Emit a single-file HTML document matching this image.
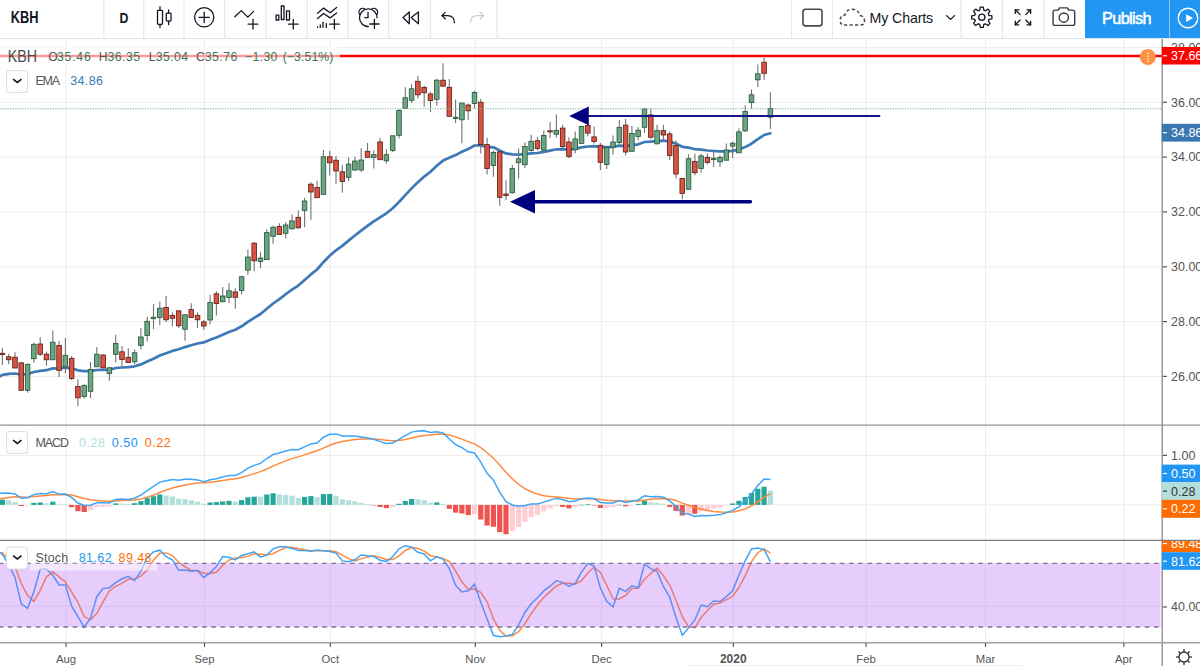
<!DOCTYPE html>
<html><head><meta charset="utf-8"><title>KBH chart</title>
<style>html,body{margin:0;padding:0;width:1200px;height:666px;overflow:hidden;background:#fff;font-family:"Liberation Sans",sans-serif}</style>
</head><body>
<svg width="1200" height="666" viewBox="0 0 1200 666" style="position:absolute;left:0;top:0"><rect x="0" y="0" width="1200" height="666" fill="#fff"/><line x1="66" y1="39" x2="66" y2="642.5" stroke="#ececec" stroke-width="1"/><line x1="204.5" y1="39" x2="204.5" y2="642.5" stroke="#ececec" stroke-width="1"/><line x1="330.3" y1="39" x2="330.3" y2="642.5" stroke="#ececec" stroke-width="1"/><line x1="475.3" y1="39" x2="475.3" y2="642.5" stroke="#ececec" stroke-width="1"/><line x1="601.6" y1="39" x2="601.6" y2="642.5" stroke="#ececec" stroke-width="1"/><line x1="733.3" y1="39" x2="733.3" y2="642.5" stroke="#ececec" stroke-width="1"/><line x1="866" y1="39" x2="866" y2="642.5" stroke="#ececec" stroke-width="1"/><line x1="985.5" y1="39" x2="985.5" y2="642.5" stroke="#ececec" stroke-width="1"/><line x1="1123.8" y1="39" x2="1123.8" y2="642.5" stroke="#ececec" stroke-width="1"/><line x1="0" y1="47.6" x2="1162" y2="47.6" stroke="#ececec" stroke-width="1"/><line x1="0" y1="102.4" x2="1162" y2="102.4" stroke="#ececec" stroke-width="1"/><line x1="0" y1="157.2" x2="1162" y2="157.2" stroke="#ececec" stroke-width="1"/><line x1="0" y1="212.0" x2="1162" y2="212.0" stroke="#ececec" stroke-width="1"/><line x1="0" y1="266.9" x2="1162" y2="266.9" stroke="#ececec" stroke-width="1"/><line x1="0" y1="321.7" x2="1162" y2="321.7" stroke="#ececec" stroke-width="1"/><line x1="0" y1="376.5" x2="1162" y2="376.5" stroke="#ececec" stroke-width="1"/><line x1="0" y1="455.4" x2="1162" y2="455.4" stroke="#ececec" stroke-width="1"/><line x1="0" y1="504.9" x2="1162" y2="504.9" stroke="#ececec" stroke-width="1"/><line x1="0" y1="606.3" x2="1162" y2="606.3" stroke="#ececec" stroke-width="1"/><polyline points="0.0,376.3 2.4,374.9 8.7,373.9 15.0,373.5 21.3,374.6 27.6,374.0 33.9,372.0 40.2,370.9 46.5,370.2 52.8,368.4 59.1,368.5 65.4,367.6 71.6,368.4 77.9,370.3 84.2,371.2 90.5,371.1 96.8,370.0 103.1,369.9 109.4,369.7 115.7,368.0 122.0,367.5 128.3,367.2 134.6,366.3 140.9,364.4 147.2,361.6 153.5,358.7 159.8,355.5 166.1,353.2 172.4,350.9 178.7,349.3 185.0,347.1 191.2,345.2 197.5,343.5 203.8,342.4 210.1,339.8 216.4,337.5 222.7,334.8 229.0,332.0 235.3,329.7 241.6,326.3 247.9,321.8 254.2,317.9 260.5,314.0 266.8,308.8 273.1,303.5 279.4,299.1 285.7,294.3 292.0,289.6 298.3,285.6 304.6,280.1 310.9,274.4 317.1,269.5 323.4,262.2 329.7,255.8 336.0,250.3 342.3,245.9 348.6,240.6 354.9,235.5 361.2,230.6 367.5,225.9 373.8,221.3 380.1,217.3 386.4,213.3 392.7,208.3 399.0,202.0 405.3,195.2 411.6,188.4 417.9,182.3 424.2,176.6 430.5,171.7 436.8,165.8 443.0,160.6 449.3,157.8 455.6,155.1 461.9,151.8 468.2,149.1 474.5,145.5 480.8,145.4 487.1,146.9 493.4,147.3 499.7,150.5 506.0,153.4 512.3,154.4 518.6,154.7 524.9,154.1 531.2,153.3 537.5,153.0 543.8,151.9 550.1,150.6 556.4,149.3 562.7,149.1 568.9,149.6 575.2,148.9 581.5,147.4 587.8,146.5 594.1,146.2 600.4,147.2 606.7,147.2 613.0,146.9 619.3,145.6 625.6,146.1 631.9,145.2 638.2,144.3 644.5,142.0 650.8,141.7 657.1,141.0 663.4,140.6 669.7,141.5 676.0,143.6 682.3,146.8 688.6,147.6 694.9,149.2 701.1,149.7 707.4,150.5 713.7,151.0 720.0,151.4 726.3,151.3 732.6,150.8 738.9,149.6 745.2,147.1 751.5,143.7 757.8,139.2 764.1,135.0 770.4,133.3" fill="none" stroke="#3c79b6" stroke-width="2.7" stroke-linejoin="round" stroke-linecap="round"/><g><line x1="2.4" y1="347.8" x2="2.4" y2="365.0" stroke="#737375" stroke-width="1.1"/><line x1="8.7" y1="353.8" x2="8.7" y2="364.3" stroke="#737375" stroke-width="1.1"/><line x1="15.0" y1="352.3" x2="15.0" y2="368.0" stroke="#737375" stroke-width="1.1"/><line x1="21.3" y1="362.8" x2="21.3" y2="391.0" stroke="#737375" stroke-width="1.1"/><line x1="27.6" y1="363.5" x2="27.6" y2="392.8" stroke="#737375" stroke-width="1.1"/><line x1="33.9" y1="342.5" x2="33.9" y2="362.8" stroke="#737375" stroke-width="1.1"/><line x1="40.2" y1="337.3" x2="40.2" y2="356.0" stroke="#737375" stroke-width="1.1"/><line x1="46.5" y1="351.5" x2="46.5" y2="365.8" stroke="#737375" stroke-width="1.1"/><line x1="52.8" y1="330.5" x2="52.8" y2="359.8" stroke="#737375" stroke-width="1.1"/><line x1="59.1" y1="341.0" x2="59.1" y2="377.0" stroke="#737375" stroke-width="1.1"/><line x1="65.4" y1="338.0" x2="65.4" y2="373.3" stroke="#737375" stroke-width="1.1"/><line x1="71.6" y1="356.0" x2="71.6" y2="380.0" stroke="#737375" stroke-width="1.1"/><line x1="77.9" y1="379.3" x2="77.9" y2="406.3" stroke="#737375" stroke-width="1.1"/><line x1="84.2" y1="384.6" x2="84.2" y2="398.8" stroke="#737375" stroke-width="1.1"/><line x1="90.5" y1="362.0" x2="90.5" y2="398.0" stroke="#737375" stroke-width="1.1"/><line x1="96.8" y1="347.0" x2="96.8" y2="366.8" stroke="#737375" stroke-width="1.1"/><line x1="103.1" y1="354.3" x2="103.1" y2="368.6" stroke="#737375" stroke-width="1.1"/><line x1="109.4" y1="367.0" x2="109.4" y2="380.8" stroke="#737375" stroke-width="1.1"/><line x1="115.7" y1="334.8" x2="115.7" y2="362.6" stroke="#737375" stroke-width="1.1"/><line x1="122.0" y1="346.0" x2="122.0" y2="367.0" stroke="#737375" stroke-width="1.1"/><line x1="128.3" y1="348.3" x2="128.3" y2="363.3" stroke="#737375" stroke-width="1.1"/><line x1="134.6" y1="349.4" x2="134.6" y2="364.0" stroke="#737375" stroke-width="1.1"/><line x1="140.9" y1="328.3" x2="140.9" y2="349.4" stroke="#737375" stroke-width="1.1"/><line x1="147.2" y1="316.8" x2="147.2" y2="341.6" stroke="#737375" stroke-width="1.1"/><line x1="153.5" y1="304.0" x2="153.5" y2="329.2" stroke="#737375" stroke-width="1.1"/><line x1="159.8" y1="301.8" x2="159.8" y2="325.0" stroke="#737375" stroke-width="1.1"/><line x1="166.1" y1="295.8" x2="166.1" y2="322.0" stroke="#737375" stroke-width="1.1"/><line x1="172.4" y1="312.3" x2="172.4" y2="326.2" stroke="#737375" stroke-width="1.1"/><line x1="178.7" y1="310.8" x2="178.7" y2="328.0" stroke="#737375" stroke-width="1.1"/><line x1="185.0" y1="314.8" x2="185.0" y2="340.8" stroke="#737375" stroke-width="1.1"/><line x1="191.2" y1="303.3" x2="191.2" y2="318.0" stroke="#737375" stroke-width="1.1"/><line x1="197.5" y1="312.6" x2="197.5" y2="328.3" stroke="#737375" stroke-width="1.1"/><line x1="203.8" y1="320.0" x2="203.8" y2="330.0" stroke="#737375" stroke-width="1.1"/><line x1="210.1" y1="294.9" x2="210.1" y2="324.6" stroke="#737375" stroke-width="1.1"/><line x1="216.4" y1="291.6" x2="216.4" y2="315.6" stroke="#737375" stroke-width="1.1"/><line x1="222.7" y1="287.0" x2="222.7" y2="302.0" stroke="#737375" stroke-width="1.1"/><line x1="229.0" y1="283.3" x2="229.0" y2="302.8" stroke="#737375" stroke-width="1.1"/><line x1="235.3" y1="288.3" x2="235.3" y2="308.8" stroke="#737375" stroke-width="1.1"/><line x1="241.6" y1="275.8" x2="241.6" y2="294.6" stroke="#737375" stroke-width="1.1"/><line x1="247.9" y1="249.5" x2="247.9" y2="275.0" stroke="#737375" stroke-width="1.1"/><line x1="254.2" y1="242.0" x2="254.2" y2="271.3" stroke="#737375" stroke-width="1.1"/><line x1="260.5" y1="251.8" x2="260.5" y2="268.3" stroke="#737375" stroke-width="1.1"/><line x1="266.8" y1="229.6" x2="266.8" y2="259.6" stroke="#737375" stroke-width="1.1"/><line x1="273.1" y1="225.8" x2="273.1" y2="243.8" stroke="#737375" stroke-width="1.1"/><line x1="279.4" y1="223.3" x2="279.4" y2="234.8" stroke="#737375" stroke-width="1.1"/><line x1="285.7" y1="222.0" x2="285.7" y2="238.6" stroke="#737375" stroke-width="1.1"/><line x1="292.0" y1="214.6" x2="292.0" y2="229.6" stroke="#737375" stroke-width="1.1"/><line x1="298.3" y1="210.4" x2="298.3" y2="228.8" stroke="#737375" stroke-width="1.1"/><line x1="304.6" y1="197.7" x2="304.6" y2="227.3" stroke="#737375" stroke-width="1.1"/><line x1="310.9" y1="182.3" x2="310.9" y2="219.8" stroke="#737375" stroke-width="1.1"/><line x1="317.1" y1="180.8" x2="317.1" y2="197.7" stroke="#737375" stroke-width="1.1"/><line x1="323.4" y1="150.0" x2="323.4" y2="195.0" stroke="#737375" stroke-width="1.1"/><line x1="329.7" y1="150.8" x2="329.7" y2="175.5" stroke="#737375" stroke-width="1.1"/><line x1="336.0" y1="156.0" x2="336.0" y2="183.8" stroke="#737375" stroke-width="1.1"/><line x1="342.3" y1="165.0" x2="342.3" y2="192.8" stroke="#737375" stroke-width="1.1"/><line x1="348.6" y1="157.3" x2="348.6" y2="181.0" stroke="#737375" stroke-width="1.1"/><line x1="354.9" y1="156.8" x2="354.9" y2="171.0" stroke="#737375" stroke-width="1.1"/><line x1="361.2" y1="148.2" x2="361.2" y2="172.0" stroke="#737375" stroke-width="1.1"/><line x1="367.5" y1="143.0" x2="367.5" y2="157.8" stroke="#737375" stroke-width="1.1"/><line x1="373.8" y1="150.5" x2="373.8" y2="168.4" stroke="#737375" stroke-width="1.1"/><line x1="380.1" y1="137.9" x2="380.1" y2="160.0" stroke="#737375" stroke-width="1.1"/><line x1="386.4" y1="149.2" x2="386.4" y2="163.6" stroke="#737375" stroke-width="1.1"/><line x1="392.7" y1="135.8" x2="392.7" y2="152.0" stroke="#737375" stroke-width="1.1"/><line x1="399.0" y1="109.0" x2="399.0" y2="138.5" stroke="#737375" stroke-width="1.1"/><line x1="405.3" y1="87.3" x2="405.3" y2="108.3" stroke="#737375" stroke-width="1.1"/><line x1="411.6" y1="84.3" x2="411.6" y2="102.7" stroke="#737375" stroke-width="1.1"/><line x1="417.9" y1="76.0" x2="417.9" y2="98.5" stroke="#737375" stroke-width="1.1"/><line x1="424.2" y1="85.8" x2="424.2" y2="106.8" stroke="#737375" stroke-width="1.1"/><line x1="430.5" y1="91.8" x2="430.5" y2="112.0" stroke="#737375" stroke-width="1.1"/><line x1="436.8" y1="78.7" x2="436.8" y2="105.7" stroke="#737375" stroke-width="1.1"/><line x1="443.0" y1="63.3" x2="443.0" y2="86.2" stroke="#737375" stroke-width="1.1"/><line x1="449.3" y1="79.0" x2="449.3" y2="116.3" stroke="#737375" stroke-width="1.1"/><line x1="455.6" y1="99.6" x2="455.6" y2="123.0" stroke="#737375" stroke-width="1.1"/><line x1="461.9" y1="103.0" x2="461.9" y2="143.2" stroke="#737375" stroke-width="1.1"/><line x1="468.2" y1="103.5" x2="468.2" y2="119.8" stroke="#737375" stroke-width="1.1"/><line x1="474.5" y1="90.5" x2="474.5" y2="108.4" stroke="#737375" stroke-width="1.1"/><line x1="480.8" y1="98.7" x2="480.8" y2="153.4" stroke="#737375" stroke-width="1.1"/><line x1="487.1" y1="137.7" x2="487.1" y2="174.5" stroke="#737375" stroke-width="1.1"/><line x1="493.4" y1="150.4" x2="493.4" y2="176.8" stroke="#737375" stroke-width="1.1"/><line x1="499.7" y1="151.8" x2="499.7" y2="205.7" stroke="#737375" stroke-width="1.1"/><line x1="506.0" y1="180.3" x2="506.0" y2="200.2" stroke="#737375" stroke-width="1.1"/><line x1="512.3" y1="165.0" x2="512.3" y2="193.4" stroke="#737375" stroke-width="1.1"/><line x1="518.6" y1="148.5" x2="518.6" y2="178.4" stroke="#737375" stroke-width="1.1"/><line x1="524.9" y1="142.6" x2="524.9" y2="168.0" stroke="#737375" stroke-width="1.1"/><line x1="531.2" y1="134.8" x2="531.2" y2="151.4" stroke="#737375" stroke-width="1.1"/><line x1="537.5" y1="136.8" x2="537.5" y2="150.4" stroke="#737375" stroke-width="1.1"/><line x1="543.8" y1="130.4" x2="543.8" y2="152.8" stroke="#737375" stroke-width="1.1"/><line x1="550.1" y1="122.0" x2="550.1" y2="138.0" stroke="#737375" stroke-width="1.1"/><line x1="556.4" y1="114.6" x2="556.4" y2="137.6" stroke="#737375" stroke-width="1.1"/><line x1="562.7" y1="124.7" x2="562.7" y2="148.0" stroke="#737375" stroke-width="1.1"/><line x1="568.9" y1="137.2" x2="568.9" y2="158.2" stroke="#737375" stroke-width="1.1"/><line x1="575.2" y1="131.5" x2="575.2" y2="153.4" stroke="#737375" stroke-width="1.1"/><line x1="581.5" y1="126.4" x2="581.5" y2="143.4" stroke="#737375" stroke-width="1.1"/><line x1="587.8" y1="122.7" x2="587.8" y2="136.6" stroke="#737375" stroke-width="1.1"/><line x1="594.1" y1="126.4" x2="594.1" y2="143.6" stroke="#737375" stroke-width="1.1"/><line x1="600.4" y1="143.0" x2="600.4" y2="170.0" stroke="#737375" stroke-width="1.1"/><line x1="606.7" y1="147.0" x2="606.7" y2="169.0" stroke="#737375" stroke-width="1.1"/><line x1="613.0" y1="135.5" x2="613.0" y2="154.5" stroke="#737375" stroke-width="1.1"/><line x1="619.3" y1="120.0" x2="619.3" y2="144.6" stroke="#737375" stroke-width="1.1"/><line x1="625.6" y1="119.0" x2="625.6" y2="155.4" stroke="#737375" stroke-width="1.1"/><line x1="631.9" y1="126.0" x2="631.9" y2="152.0" stroke="#737375" stroke-width="1.1"/><line x1="638.2" y1="127.3" x2="638.2" y2="140.5" stroke="#737375" stroke-width="1.1"/><line x1="644.5" y1="108.3" x2="644.5" y2="133.0" stroke="#737375" stroke-width="1.1"/><line x1="650.8" y1="108.3" x2="650.8" y2="139.3" stroke="#737375" stroke-width="1.1"/><line x1="657.1" y1="124.8" x2="657.1" y2="144.6" stroke="#737375" stroke-width="1.1"/><line x1="663.4" y1="124.8" x2="663.4" y2="140.5" stroke="#737375" stroke-width="1.1"/><line x1="669.7" y1="131.4" x2="669.7" y2="160.3" stroke="#737375" stroke-width="1.1"/><line x1="676.0" y1="140.5" x2="676.0" y2="178.5" stroke="#737375" stroke-width="1.1"/><line x1="682.3" y1="177.7" x2="682.3" y2="199.2" stroke="#737375" stroke-width="1.1"/><line x1="688.6" y1="154.2" x2="688.6" y2="190.0" stroke="#737375" stroke-width="1.1"/><line x1="694.9" y1="153.7" x2="694.9" y2="175.2" stroke="#737375" stroke-width="1.1"/><line x1="701.1" y1="153.7" x2="701.1" y2="172.7" stroke="#737375" stroke-width="1.1"/><line x1="707.4" y1="153.4" x2="707.4" y2="164.5" stroke="#737375" stroke-width="1.1"/><line x1="713.7" y1="150.4" x2="713.7" y2="167.0" stroke="#737375" stroke-width="1.1"/><line x1="720.0" y1="155.3" x2="720.0" y2="167.0" stroke="#737375" stroke-width="1.1"/><line x1="726.3" y1="143.6" x2="726.3" y2="160.2" stroke="#737375" stroke-width="1.1"/><line x1="732.6" y1="141.6" x2="732.6" y2="158.2" stroke="#737375" stroke-width="1.1"/><line x1="738.9" y1="128.6" x2="738.9" y2="152.8" stroke="#737375" stroke-width="1.1"/><line x1="745.2" y1="105.5" x2="745.2" y2="131.9" stroke="#737375" stroke-width="1.1"/><line x1="751.5" y1="89.5" x2="751.5" y2="108.5" stroke="#737375" stroke-width="1.1"/><line x1="757.8" y1="64.5" x2="757.8" y2="87.0" stroke="#737375" stroke-width="1.1"/><line x1="764.1" y1="57.7" x2="764.1" y2="79.8" stroke="#737375" stroke-width="1.1"/><line x1="770.4" y1="92.2" x2="770.4" y2="129.0" stroke="#737375" stroke-width="1.1"/><rect x="0.10" y="353.3" width="4.6" height="1.3" fill="#d75442" stroke="#5b1a13" stroke-width="0.8"/><rect x="6.40" y="356.8" width="4.6" height="3.0" fill="#d75442" stroke="#5b1a13" stroke-width="0.8"/><rect x="12.69" y="357.2" width="4.6" height="10.8" fill="#d75442" stroke="#5b1a13" stroke-width="0.8"/><rect x="18.98" y="362.8" width="4.6" height="27.5" fill="#d75442" stroke="#5b1a13" stroke-width="0.8"/><rect x="25.28" y="364.3" width="4.6" height="26.0" fill="#6ba583" stroke="#225437" stroke-width="0.8"/><rect x="31.57" y="344.3" width="4.6" height="14.4" fill="#6ba583" stroke="#225437" stroke-width="0.8"/><rect x="37.87" y="344.0" width="4.6" height="10.2" fill="#d75442" stroke="#5b1a13" stroke-width="0.8"/><rect x="44.16" y="354.2" width="4.6" height="5.6" fill="#d75442" stroke="#5b1a13" stroke-width="0.8"/><rect x="50.46" y="342.2" width="4.6" height="17.6" fill="#6ba583" stroke="#225437" stroke-width="0.8"/><rect x="56.76" y="345.5" width="4.6" height="24.8" fill="#d75442" stroke="#5b1a13" stroke-width="0.8"/><rect x="63.05" y="355.3" width="4.6" height="11.5" fill="#6ba583" stroke="#225437" stroke-width="0.8"/><rect x="69.35" y="358.3" width="4.6" height="20.3" fill="#d75442" stroke="#5b1a13" stroke-width="0.8"/><rect x="75.64" y="386.5" width="4.6" height="11.3" fill="#d75442" stroke="#5b1a13" stroke-width="0.8"/><rect x="81.94" y="385.3" width="4.6" height="11.3" fill="#6ba583" stroke="#225437" stroke-width="0.8"/><rect x="88.23" y="369.5" width="4.6" height="21.8" fill="#6ba583" stroke="#225437" stroke-width="0.8"/><rect x="94.53" y="354.2" width="4.6" height="12.6" fill="#6ba583" stroke="#225437" stroke-width="0.8"/><rect x="100.82" y="355.0" width="4.6" height="12.8" fill="#d75442" stroke="#5b1a13" stroke-width="0.8"/><rect x="107.12" y="367.8" width="4.6" height="5.6" fill="#6ba583" stroke="#225437" stroke-width="0.8"/><rect x="113.41" y="343.4" width="4.6" height="10.9" fill="#6ba583" stroke="#225437" stroke-width="0.8"/><rect x="119.71" y="351.8" width="4.6" height="7.8" fill="#d75442" stroke="#5b1a13" stroke-width="0.8"/><rect x="126.00" y="357.3" width="4.6" height="5.3" fill="#d75442" stroke="#5b1a13" stroke-width="0.8"/><rect x="132.29" y="352.8" width="4.6" height="9.0" fill="#6ba583" stroke="#225437" stroke-width="0.8"/><rect x="138.59" y="337.0" width="4.6" height="8.3" fill="#6ba583" stroke="#225437" stroke-width="0.8"/><rect x="144.88" y="321.3" width="4.6" height="14.3" fill="#6ba583" stroke="#225437" stroke-width="0.8"/><rect x="151.18" y="317.2" width="4.6" height="1.5" fill="#6ba583" stroke="#225437" stroke-width="0.8"/><rect x="157.47" y="308.2" width="4.6" height="9.3" fill="#6ba583" stroke="#225437" stroke-width="0.8"/><rect x="163.77" y="307.5" width="4.6" height="12.3" fill="#d75442" stroke="#5b1a13" stroke-width="0.8"/><rect x="170.06" y="315.3" width="4.6" height="3.0" fill="#d75442" stroke="#5b1a13" stroke-width="0.8"/><rect x="176.36" y="310.8" width="4.6" height="15.0" fill="#d75442" stroke="#5b1a13" stroke-width="0.8"/><rect x="182.66" y="314.8" width="4.6" height="14.4" fill="#6ba583" stroke="#225437" stroke-width="0.8"/><rect x="188.95" y="309.6" width="4.6" height="7.8" fill="#d75442" stroke="#5b1a13" stroke-width="0.8"/><rect x="195.25" y="315.3" width="4.6" height="4.5" fill="#d75442" stroke="#5b1a13" stroke-width="0.8"/><rect x="201.54" y="321.9" width="4.6" height="4.1" fill="#d75442" stroke="#5b1a13" stroke-width="0.8"/><rect x="207.83" y="302.4" width="4.6" height="17.6" fill="#6ba583" stroke="#225437" stroke-width="0.8"/><rect x="214.13" y="293.8" width="4.6" height="9.8" fill="#d75442" stroke="#5b1a13" stroke-width="0.8"/><rect x="220.42" y="296.0" width="4.6" height="5.8" fill="#6ba583" stroke="#225437" stroke-width="0.8"/><rect x="226.72" y="290.8" width="4.6" height="6.8" fill="#6ba583" stroke="#225437" stroke-width="0.8"/><rect x="233.01" y="291.9" width="4.6" height="5.4" fill="#d75442" stroke="#5b1a13" stroke-width="0.8"/><rect x="239.31" y="276.8" width="4.6" height="13.6" fill="#6ba583" stroke="#225437" stroke-width="0.8"/><rect x="245.60" y="257.0" width="4.6" height="13.2" fill="#6ba583" stroke="#225437" stroke-width="0.8"/><rect x="251.90" y="243.2" width="4.6" height="17.6" fill="#d75442" stroke="#5b1a13" stroke-width="0.8"/><rect x="258.19" y="258.0" width="4.6" height="3.5" fill="#6ba583" stroke="#225437" stroke-width="0.8"/><rect x="264.49" y="232.6" width="4.6" height="27.0" fill="#6ba583" stroke="#225437" stroke-width="0.8"/><rect x="270.78" y="227.3" width="4.6" height="9.0" fill="#6ba583" stroke="#225437" stroke-width="0.8"/><rect x="277.08" y="226.6" width="4.6" height="7.8" fill="#d75442" stroke="#5b1a13" stroke-width="0.8"/><rect x="283.37" y="225.0" width="4.6" height="8.3" fill="#6ba583" stroke="#225437" stroke-width="0.8"/><rect x="289.67" y="220.9" width="4.6" height="7.9" fill="#6ba583" stroke="#225437" stroke-width="0.8"/><rect x="295.96" y="217.3" width="4.6" height="10.5" fill="#d75442" stroke="#5b1a13" stroke-width="0.8"/><rect x="302.26" y="201.0" width="4.6" height="9.4" fill="#6ba583" stroke="#225437" stroke-width="0.8"/><rect x="308.55" y="184.2" width="4.6" height="7.8" fill="#d75442" stroke="#5b1a13" stroke-width="0.8"/><rect x="314.85" y="187.5" width="4.6" height="10.2" fill="#d75442" stroke="#5b1a13" stroke-width="0.8"/><rect x="321.14" y="156.8" width="4.6" height="37.5" fill="#6ba583" stroke="#225437" stroke-width="0.8"/><rect x="327.44" y="156.8" width="4.6" height="6.0" fill="#d75442" stroke="#5b1a13" stroke-width="0.8"/><rect x="333.73" y="160.2" width="4.6" height="10.8" fill="#d75442" stroke="#5b1a13" stroke-width="0.8"/><rect x="340.03" y="171.8" width="4.6" height="9.7" fill="#d75442" stroke="#5b1a13" stroke-width="0.8"/><rect x="346.32" y="164.1" width="4.6" height="13.2" fill="#6ba583" stroke="#225437" stroke-width="0.8"/><rect x="352.62" y="161.0" width="4.6" height="9.0" fill="#6ba583" stroke="#225437" stroke-width="0.8"/><rect x="358.91" y="160.0" width="4.6" height="10.0" fill="#6ba583" stroke="#225437" stroke-width="0.8"/><rect x="365.21" y="151.3" width="4.6" height="6.0" fill="#d75442" stroke="#5b1a13" stroke-width="0.8"/><rect x="371.50" y="154.7" width="4.6" height="2.6" fill="#6ba583" stroke="#225437" stroke-width="0.8"/><rect x="377.80" y="141.9" width="4.6" height="17.8" fill="#d75442" stroke="#5b1a13" stroke-width="0.8"/><rect x="384.09" y="154.7" width="4.6" height="6.1" fill="#6ba583" stroke="#225437" stroke-width="0.8"/><rect x="390.39" y="135.8" width="4.6" height="14.7" fill="#6ba583" stroke="#225437" stroke-width="0.8"/><rect x="396.68" y="110.5" width="4.6" height="24.8" fill="#6ba583" stroke="#225437" stroke-width="0.8"/><rect x="402.98" y="97.8" width="4.6" height="10.5" fill="#6ba583" stroke="#225437" stroke-width="0.8"/><rect x="409.27" y="88.8" width="4.6" height="11.5" fill="#6ba583" stroke="#225437" stroke-width="0.8"/><rect x="415.57" y="81.3" width="4.6" height="13.5" fill="#d75442" stroke="#5b1a13" stroke-width="0.8"/><rect x="421.86" y="87.3" width="4.6" height="5.5" fill="#d75442" stroke="#5b1a13" stroke-width="0.8"/><rect x="428.16" y="94.0" width="4.6" height="6.5" fill="#d75442" stroke="#5b1a13" stroke-width="0.8"/><rect x="434.45" y="80.2" width="4.6" height="19.1" fill="#6ba583" stroke="#225437" stroke-width="0.8"/><rect x="440.75" y="80.2" width="4.6" height="6.0" fill="#d75442" stroke="#5b1a13" stroke-width="0.8"/><rect x="447.04" y="87.3" width="4.6" height="29.0" fill="#d75442" stroke="#5b1a13" stroke-width="0.8"/><rect x="453.34" y="117.2" width="4.6" height="1.4" fill="#6ba583" stroke="#225437" stroke-width="0.8"/><rect x="459.63" y="103.0" width="4.6" height="16.8" fill="#6ba583" stroke="#225437" stroke-width="0.8"/><rect x="465.93" y="105.0" width="4.6" height="5.8" fill="#d75442" stroke="#5b1a13" stroke-width="0.8"/><rect x="472.22" y="92.4" width="4.6" height="11.1" fill="#6ba583" stroke="#225437" stroke-width="0.8"/><rect x="478.52" y="102.2" width="4.6" height="42.4" fill="#d75442" stroke="#5b1a13" stroke-width="0.8"/><rect x="484.81" y="144.6" width="4.6" height="24.0" fill="#d75442" stroke="#5b1a13" stroke-width="0.8"/><rect x="491.11" y="152.4" width="4.6" height="13.1" fill="#6ba583" stroke="#225437" stroke-width="0.8"/><rect x="497.40" y="151.8" width="4.6" height="45.5" fill="#d75442" stroke="#5b1a13" stroke-width="0.8"/><rect x="503.70" y="194.0" width="4.6" height="1.4" fill="#d75442" stroke="#5b1a13" stroke-width="0.8"/><rect x="509.99" y="168.6" width="4.6" height="24.2" fill="#6ba583" stroke="#225437" stroke-width="0.8"/><rect x="516.29" y="158.8" width="4.6" height="3.9" fill="#6ba583" stroke="#225437" stroke-width="0.8"/><rect x="522.59" y="146.5" width="4.6" height="18.2" fill="#6ba583" stroke="#225437" stroke-width="0.8"/><rect x="528.88" y="141.3" width="4.6" height="9.1" fill="#6ba583" stroke="#225437" stroke-width="0.8"/><rect x="535.18" y="140.7" width="4.6" height="7.8" fill="#d75442" stroke="#5b1a13" stroke-width="0.8"/><rect x="541.47" y="135.5" width="4.6" height="14.6" fill="#6ba583" stroke="#225437" stroke-width="0.8"/><rect x="547.76" y="130.8" width="4.6" height="1.1" fill="#d75442" stroke="#5b1a13" stroke-width="0.8"/><rect x="554.06" y="130.4" width="4.6" height="3.8" fill="#6ba583" stroke="#225437" stroke-width="0.8"/><rect x="560.36" y="128.1" width="4.6" height="18.5" fill="#d75442" stroke="#5b1a13" stroke-width="0.8"/><rect x="566.65" y="142.0" width="4.6" height="14.5" fill="#d75442" stroke="#5b1a13" stroke-width="0.8"/><rect x="572.95" y="138.9" width="4.6" height="10.8" fill="#6ba583" stroke="#225437" stroke-width="0.8"/><rect x="579.24" y="126.4" width="4.6" height="17.0" fill="#6ba583" stroke="#225437" stroke-width="0.8"/><rect x="585.53" y="125.4" width="4.6" height="7.7" fill="#d75442" stroke="#5b1a13" stroke-width="0.8"/><rect x="591.83" y="136.9" width="4.6" height="4.7" fill="#d75442" stroke="#5b1a13" stroke-width="0.8"/><rect x="598.12" y="145.3" width="4.6" height="17.0" fill="#d75442" stroke="#5b1a13" stroke-width="0.8"/><rect x="604.42" y="147.4" width="4.6" height="17.2" fill="#6ba583" stroke="#225437" stroke-width="0.8"/><rect x="610.72" y="142.0" width="4.6" height="5.0" fill="#6ba583" stroke="#225437" stroke-width="0.8"/><rect x="617.01" y="127.3" width="4.6" height="15.3" fill="#6ba583" stroke="#225437" stroke-width="0.8"/><rect x="623.31" y="125.1" width="4.6" height="26.9" fill="#d75442" stroke="#5b1a13" stroke-width="0.8"/><rect x="629.60" y="133.4" width="4.6" height="17.8" fill="#6ba583" stroke="#225437" stroke-width="0.8"/><rect x="635.89" y="130.2" width="4.6" height="6.2" fill="#6ba583" stroke="#225437" stroke-width="0.8"/><rect x="642.19" y="109.0" width="4.6" height="18.3" fill="#6ba583" stroke="#225437" stroke-width="0.8"/><rect x="648.49" y="114.9" width="4.6" height="22.3" fill="#d75442" stroke="#5b1a13" stroke-width="0.8"/><rect x="654.78" y="130.6" width="4.6" height="13.2" fill="#6ba583" stroke="#225437" stroke-width="0.8"/><rect x="661.08" y="130.6" width="4.6" height="4.4" fill="#d75442" stroke="#5b1a13" stroke-width="0.8"/><rect x="667.37" y="133.9" width="4.6" height="21.5" fill="#d75442" stroke="#5b1a13" stroke-width="0.8"/><rect x="673.66" y="145.5" width="4.6" height="28.5" fill="#d75442" stroke="#5b1a13" stroke-width="0.8"/><rect x="679.96" y="178.5" width="4.6" height="14.9" fill="#d75442" stroke="#5b1a13" stroke-width="0.8"/><rect x="686.25" y="158.7" width="4.6" height="30.6" fill="#6ba583" stroke="#225437" stroke-width="0.8"/><rect x="692.55" y="161.5" width="4.6" height="11.2" fill="#d75442" stroke="#5b1a13" stroke-width="0.8"/><rect x="698.85" y="155.9" width="4.6" height="12.7" fill="#6ba583" stroke="#225437" stroke-width="0.8"/><rect x="705.14" y="157.3" width="4.6" height="5.2" fill="#d75442" stroke="#5b1a13" stroke-width="0.8"/><rect x="711.44" y="158.2" width="4.6" height="1.4" fill="#6ba583" stroke="#225437" stroke-width="0.8"/><rect x="717.73" y="157.3" width="4.6" height="4.5" fill="#6ba583" stroke="#225437" stroke-width="0.8"/><rect x="724.02" y="150.0" width="4.6" height="10.2" fill="#6ba583" stroke="#225437" stroke-width="0.8"/><rect x="730.32" y="143.2" width="4.6" height="2.9" fill="#6ba583" stroke="#225437" stroke-width="0.8"/><rect x="736.62" y="131.9" width="4.6" height="20.9" fill="#6ba583" stroke="#225437" stroke-width="0.8"/><rect x="742.91" y="111.4" width="4.6" height="19.5" fill="#6ba583" stroke="#225437" stroke-width="0.8"/><rect x="749.21" y="94.8" width="4.6" height="7.8" fill="#6ba583" stroke="#225437" stroke-width="0.8"/><rect x="755.50" y="73.9" width="4.6" height="5.9" fill="#6ba583" stroke="#225437" stroke-width="0.8"/><rect x="761.79" y="62.2" width="4.6" height="11.1" fill="#d75442" stroke="#5b1a13" stroke-width="0.8"/><rect x="768.09" y="108.5" width="4.6" height="8.7" fill="#6ba583" stroke="#225437" stroke-width="0.8"/></g><line x1="0" y1="108.8" x2="1162" y2="108.8" stroke="#7fb394" stroke-width="1.1" stroke-dasharray="1.25,1.25"/><line x1="586" y1="116" x2="879.5" y2="116" stroke="#17178c" stroke-width="1.9" stroke-linecap="round"/><polygon points="569.2,116 588.8,106.6 588.8,125.3" fill="#000080"/><line x1="525" y1="201.7" x2="750.5" y2="201.7" stroke="#000080" stroke-width="3.4" stroke-linecap="round"/><polygon points="510,201.7 535,190 535,213.5" fill="#000080"/><line x1="0" y1="56" x2="1162" y2="56" stroke="#ff0000" stroke-width="2.4"/><rect x="-0.2" y="499.6" width="5.2" height="5.3" fill="#26a69a"/><rect x="6.1" y="500.4" width="5.2" height="4.5" fill="#b2dfdb"/><rect x="12.4" y="502.1" width="5.2" height="2.8" fill="#b2dfdb"/><rect x="18.7" y="504.9" width="5.2" height="1.1" fill="#ef5350"/><rect x="25.0" y="504.9" width="5.2" height="0.6" fill="#ffcdd2"/><rect x="31.3" y="502.8" width="5.2" height="2.1" fill="#26a69a"/><rect x="37.6" y="502.5" width="5.2" height="2.4" fill="#26a69a"/><rect x="43.9" y="503.2" width="5.2" height="1.7" fill="#b2dfdb"/><rect x="50.2" y="501.7" width="5.2" height="3.2" fill="#26a69a"/><rect x="56.5" y="504.3" width="5.2" height="0.6" fill="#b2dfdb"/><rect x="62.8" y="504.3" width="5.2" height="0.6" fill="#b2dfdb"/><rect x="69.0" y="504.9" width="5.2" height="2.3" fill="#ef5350"/><rect x="75.3" y="504.9" width="5.2" height="6.3" fill="#ef5350"/><rect x="81.6" y="504.9" width="5.2" height="7.1" fill="#ef5350"/><rect x="87.9" y="504.9" width="5.2" height="5.4" fill="#ffcdd2"/><rect x="94.2" y="504.9" width="5.2" height="2.4" fill="#ffcdd2"/><rect x="100.5" y="504.9" width="5.2" height="1.9" fill="#ffcdd2"/><rect x="106.8" y="504.9" width="5.2" height="1.6" fill="#ffcdd2"/><rect x="113.1" y="503.4" width="5.2" height="1.5" fill="#26a69a"/><rect x="119.4" y="503.5" width="5.2" height="1.4" fill="#b2dfdb"/><rect x="125.7" y="504.0" width="5.2" height="0.9" fill="#b2dfdb"/><rect x="132.0" y="503.2" width="5.2" height="1.7" fill="#26a69a"/><rect x="138.3" y="501.1" width="5.2" height="3.8" fill="#26a69a"/><rect x="144.6" y="498.1" width="5.2" height="6.8" fill="#26a69a"/><rect x="150.9" y="496.2" width="5.2" height="8.7" fill="#26a69a"/><rect x="157.2" y="494.5" width="5.2" height="10.4" fill="#26a69a"/><rect x="163.5" y="495.5" width="5.2" height="9.4" fill="#b2dfdb"/><rect x="169.8" y="496.5" width="5.2" height="8.4" fill="#b2dfdb"/><rect x="176.1" y="498.6" width="5.2" height="6.3" fill="#b2dfdb"/><rect x="182.4" y="499.2" width="5.2" height="5.7" fill="#b2dfdb"/><rect x="188.7" y="500.3" width="5.2" height="4.6" fill="#b2dfdb"/><rect x="194.9" y="501.7" width="5.2" height="3.2" fill="#b2dfdb"/><rect x="201.2" y="503.7" width="5.2" height="1.2" fill="#b2dfdb"/><rect x="207.5" y="502.5" width="5.2" height="2.4" fill="#26a69a"/><rect x="213.8" y="502.1" width="5.2" height="2.8" fill="#26a69a"/><rect x="220.1" y="501.4" width="5.2" height="3.5" fill="#26a69a"/><rect x="226.4" y="500.8" width="5.2" height="4.1" fill="#26a69a"/><rect x="232.7" y="501.6" width="5.2" height="3.3" fill="#b2dfdb"/><rect x="239.0" y="500.1" width="5.2" height="4.8" fill="#26a69a"/><rect x="245.3" y="497.3" width="5.2" height="7.6" fill="#26a69a"/><rect x="251.6" y="496.7" width="5.2" height="8.2" fill="#26a69a"/><rect x="257.9" y="496.7" width="5.2" height="8.2" fill="#b2dfdb"/><rect x="264.2" y="494.5" width="5.2" height="10.4" fill="#26a69a"/><rect x="270.5" y="493.3" width="5.2" height="11.6" fill="#26a69a"/><rect x="276.8" y="494.4" width="5.2" height="10.5" fill="#b2dfdb"/><rect x="283.1" y="494.9" width="5.2" height="10.0" fill="#b2dfdb"/><rect x="289.4" y="495.7" width="5.2" height="9.2" fill="#b2dfdb"/><rect x="295.7" y="497.9" width="5.2" height="7.0" fill="#b2dfdb"/><rect x="302.0" y="496.9" width="5.2" height="8.0" fill="#26a69a"/><rect x="308.3" y="496.1" width="5.2" height="8.8" fill="#26a69a"/><rect x="314.5" y="497.2" width="5.2" height="7.7" fill="#b2dfdb"/><rect x="320.8" y="494.1" width="5.2" height="10.8" fill="#26a69a"/><rect x="327.1" y="493.9" width="5.2" height="11.0" fill="#26a69a"/><rect x="333.4" y="495.8" width="5.2" height="9.1" fill="#b2dfdb"/><rect x="339.7" y="499.3" width="5.2" height="5.6" fill="#b2dfdb"/><rect x="346.0" y="500.3" width="5.2" height="4.6" fill="#b2dfdb"/><rect x="352.3" y="501.4" width="5.2" height="3.5" fill="#b2dfdb"/><rect x="358.6" y="502.8" width="5.2" height="2.1" fill="#b2dfdb"/><rect x="364.9" y="504.0" width="5.2" height="0.9" fill="#b2dfdb"/><rect x="371.2" y="504.9" width="5.2" height="0.5" fill="#ef5350"/><rect x="377.5" y="504.9" width="5.2" height="2.1" fill="#ef5350"/><rect x="383.8" y="504.9" width="5.2" height="3.2" fill="#ef5350"/><rect x="390.1" y="504.9" width="5.2" height="2.1" fill="#ffcdd2"/><rect x="396.4" y="503.8" width="5.2" height="1.1" fill="#26a69a"/><rect x="402.7" y="501.0" width="5.2" height="3.9" fill="#26a69a"/><rect x="409.0" y="499.0" width="5.2" height="5.9" fill="#26a69a"/><rect x="415.3" y="499.3" width="5.2" height="5.6" fill="#b2dfdb"/><rect x="421.6" y="500.2" width="5.2" height="4.7" fill="#b2dfdb"/><rect x="427.9" y="502.6" width="5.2" height="2.3" fill="#b2dfdb"/><rect x="434.2" y="502.4" width="5.2" height="2.5" fill="#26a69a"/><rect x="440.4" y="503.8" width="5.2" height="1.1" fill="#b2dfdb"/><rect x="446.7" y="504.9" width="5.2" height="4.0" fill="#ef5350"/><rect x="453.0" y="504.9" width="5.2" height="7.7" fill="#ef5350"/><rect x="459.3" y="504.9" width="5.2" height="8.6" fill="#ef5350"/><rect x="465.6" y="504.9" width="5.2" height="10.2" fill="#ef5350"/><rect x="471.9" y="504.9" width="5.2" height="9.1" fill="#ffcdd2"/><rect x="478.2" y="504.9" width="5.2" height="14.6" fill="#ef5350"/><rect x="484.5" y="504.9" width="5.2" height="20.6" fill="#ef5350"/><rect x="490.8" y="504.9" width="5.2" height="21.9" fill="#ef5350"/><rect x="497.1" y="504.9" width="5.2" height="27.2" fill="#ef5350"/><rect x="503.4" y="504.9" width="5.2" height="29.3" fill="#ef5350"/><rect x="509.7" y="504.9" width="5.2" height="26.2" fill="#ffcdd2"/><rect x="516.0" y="504.9" width="5.2" height="22.0" fill="#ffcdd2"/><rect x="522.3" y="504.9" width="5.2" height="16.9" fill="#ffcdd2"/><rect x="528.6" y="504.9" width="5.2" height="12.4" fill="#ffcdd2"/><rect x="534.9" y="504.9" width="5.2" height="9.9" fill="#ffcdd2"/><rect x="541.2" y="504.9" width="5.2" height="6.4" fill="#ffcdd2"/><rect x="547.5" y="504.9" width="5.2" height="3.5" fill="#ffcdd2"/><rect x="553.8" y="504.9" width="5.2" height="1.4" fill="#ffcdd2"/><rect x="560.1" y="504.9" width="5.2" height="2.0" fill="#ef5350"/><rect x="566.3" y="504.9" width="5.2" height="3.5" fill="#ef5350"/><rect x="572.6" y="504.9" width="5.2" height="2.2" fill="#ffcdd2"/><rect x="578.9" y="504.8" width="5.2" height="0.5" fill="#26a69a"/><rect x="585.2" y="504.2" width="5.2" height="0.7" fill="#26a69a"/><rect x="591.5" y="504.9" width="5.2" height="0.5" fill="#ef5350"/><rect x="597.8" y="504.9" width="5.2" height="3.0" fill="#ef5350"/><rect x="604.1" y="504.9" width="5.2" height="2.9" fill="#ffcdd2"/><rect x="610.4" y="504.9" width="5.2" height="2.2" fill="#ffcdd2"/><rect x="616.7" y="504.8" width="5.2" height="0.5" fill="#26a69a"/><rect x="623.0" y="504.9" width="5.2" height="1.4" fill="#ef5350"/><rect x="629.3" y="504.9" width="5.2" height="0.5" fill="#ffcdd2"/><rect x="635.6" y="503.9" width="5.2" height="1.0" fill="#26a69a"/><rect x="641.9" y="500.8" width="5.2" height="4.1" fill="#26a69a"/><rect x="648.2" y="502.4" width="5.2" height="2.5" fill="#b2dfdb"/><rect x="654.5" y="502.8" width="5.2" height="2.1" fill="#b2dfdb"/><rect x="660.8" y="503.8" width="5.2" height="1.1" fill="#b2dfdb"/><rect x="667.1" y="504.9" width="5.2" height="2.0" fill="#ef5350"/><rect x="673.4" y="504.9" width="5.2" height="6.0" fill="#ef5350"/><rect x="679.7" y="504.9" width="5.2" height="10.6" fill="#ef5350"/><rect x="686.0" y="504.9" width="5.2" height="8.8" fill="#ffcdd2"/><rect x="692.2" y="504.9" width="5.2" height="8.9" fill="#ef5350"/><rect x="698.5" y="504.9" width="5.2" height="6.5" fill="#ffcdd2"/><rect x="704.8" y="504.9" width="5.2" height="5.4" fill="#ffcdd2"/><rect x="711.1" y="504.9" width="5.2" height="3.8" fill="#ffcdd2"/><rect x="717.4" y="504.9" width="5.2" height="2.5" fill="#ffcdd2"/><rect x="723.7" y="504.9" width="5.2" height="0.6" fill="#ffcdd2"/><rect x="730.0" y="503.5" width="5.2" height="1.4" fill="#26a69a"/><rect x="736.3" y="500.8" width="5.2" height="4.1" fill="#26a69a"/><rect x="742.6" y="497.0" width="5.2" height="7.9" fill="#26a69a"/><rect x="748.9" y="493.0" width="5.2" height="11.9" fill="#26a69a"/><rect x="755.2" y="488.7" width="5.2" height="16.2" fill="#26a69a"/><rect x="761.5" y="486.8" width="5.2" height="18.1" fill="#26a69a"/><rect x="767.8" y="490.7" width="5.2" height="14.2" fill="#b2dfdb"/><polyline points="0.0,498.6 2.4,498.6 8.7,497.4 15.0,496.7 21.3,497.0 27.6,497.2 33.9,496.6 40.2,496.0 46.5,495.6 52.8,494.8 59.1,494.7 65.4,494.5 71.6,495.1 77.9,496.7 84.2,498.4 90.5,499.8 96.8,500.4 103.1,500.9 109.4,501.3 115.7,500.9 122.0,500.5 128.3,500.3 134.6,499.9 140.9,498.9 147.2,497.2 153.5,495.1 159.8,492.5 166.1,490.1 172.4,488.0 178.7,486.5 185.0,485.0 191.2,483.9 197.5,483.1 203.8,482.8 210.1,482.2 216.4,481.5 222.7,480.6 229.0,479.6 235.3,478.7 241.6,477.5 247.9,475.6 254.2,473.6 260.5,471.6 266.8,469.0 273.1,466.1 279.4,463.4 285.7,460.9 292.0,458.6 298.3,456.9 304.6,454.9 310.9,452.7 317.1,450.8 323.4,448.1 329.7,445.3 336.0,443.0 342.3,441.6 348.6,440.5 354.9,439.6 361.2,439.1 367.5,438.9 373.8,438.9 380.1,439.5 386.4,440.3 392.7,440.8 399.0,440.5 405.3,439.5 411.6,438.0 417.9,436.6 424.2,435.5 430.5,434.9 436.8,434.3 443.0,434.0 449.3,435.0 455.6,436.9 461.9,439.1 468.2,441.6 474.5,443.9 480.8,447.6 487.1,452.7 493.4,458.2 499.7,465.0 506.0,472.3 512.3,478.8 518.6,484.3 524.9,488.6 531.2,491.7 537.5,494.1 543.8,495.7 550.1,496.6 556.4,497.0 562.7,497.5 568.9,498.3 575.2,498.9 581.5,498.9 587.8,498.7 594.1,498.7 600.4,499.5 606.7,500.2 613.0,500.7 619.3,500.7 625.6,501.1 631.9,501.1 638.2,500.9 644.5,499.9 650.8,499.2 657.1,498.7 663.4,498.4 669.7,498.9 676.0,500.4 682.3,503.1 688.6,505.3 694.9,507.5 701.1,509.1 707.4,510.5 713.7,511.4 720.0,512.1 726.3,512.2 732.6,511.9 738.9,510.8 745.2,508.9 751.5,505.9 757.8,501.8 764.1,497.3 770.4,493.7" fill="none" stroke="#ff8a3d" stroke-width="1.5"/><polyline points="0.0,493.3 2.4,493.3 8.7,492.9 15.0,494.0 21.3,498.2 27.6,497.7 33.9,494.6 40.2,493.6 46.5,493.9 52.8,491.6 59.1,494.1 65.4,494.0 71.6,497.4 77.9,503.0 84.2,505.5 90.5,505.2 96.8,502.7 103.1,502.8 109.4,502.9 115.7,499.4 122.0,499.1 128.3,499.4 134.6,498.2 140.9,495.1 147.2,490.5 153.5,486.4 159.8,482.1 166.1,480.7 172.4,479.6 178.7,480.2 185.0,479.3 191.2,479.3 197.5,479.9 203.8,481.6 210.1,479.7 216.4,478.7 222.7,477.1 229.0,475.4 235.3,475.4 241.6,472.7 247.9,468.1 254.2,465.4 260.5,463.4 266.8,458.5 273.1,454.5 279.4,453.0 285.7,451.0 292.0,449.4 298.3,449.8 304.6,446.9 310.9,443.9 317.1,443.1 323.4,437.2 329.7,434.3 336.0,433.9 342.3,436.0 348.6,435.9 354.9,436.1 361.2,437.0 367.5,438.0 373.8,439.2 380.1,441.6 386.4,443.5 392.7,442.9 399.0,439.4 405.3,435.6 411.6,432.1 417.9,431.0 424.2,430.8 430.5,432.5 436.8,431.8 443.0,432.9 449.3,439.0 455.6,444.6 461.9,447.7 468.2,451.8 474.5,453.0 480.8,462.2 487.1,473.3 493.4,480.1 499.7,492.2 506.0,501.6 512.3,505.0 518.6,506.3 524.9,505.5 531.2,504.1 537.5,504.0 543.8,502.1 550.1,500.1 556.4,498.4 562.7,499.5 568.9,501.8 575.2,501.1 581.5,498.8 587.8,498.1 594.1,498.8 600.4,502.4 606.7,503.1 613.0,502.9 619.3,500.6 625.6,502.5 631.9,501.3 638.2,499.9 644.5,495.8 650.8,496.7 657.1,496.6 663.4,497.3 669.7,500.9 676.0,506.5 682.3,513.6 688.6,514.1 694.9,516.4 701.1,515.6 707.4,515.8 713.7,515.3 720.0,514.6 726.3,512.8 732.6,510.4 738.9,506.8 745.2,500.9 751.5,494.0 757.8,485.6 764.1,479.1 770.4,479.5" fill="none" stroke="#3fa4f6" stroke-width="1.5"/><polyline points="0.0,552.8 2.4,552.8 8.7,559.8 15.0,567.0 21.3,583.5 27.6,595.6 33.9,601.6 40.2,590.3 46.5,576.8 52.8,571.8 59.1,576.8 65.4,582.0 71.6,591.8 77.9,602.3 84.2,616.6 90.5,619.6 96.8,613.6 103.1,601.6 109.4,591.0 115.7,586.3 122.0,583.1 128.3,579.3 134.6,578.7 140.9,576.1 147.2,569.9 153.5,560.3 159.8,553.3 166.1,552.9 172.4,555.6 178.7,562.3 185.0,566.7 191.2,570.5 197.5,570.6 203.8,573.2 210.1,573.6 216.4,572.3 222.7,565.2 229.0,560.1 235.3,557.9 241.6,557.5 247.9,556.4 254.2,553.7 260.5,554.2 266.8,554.7 273.1,553.7 279.4,550.3 285.7,547.5 292.0,547.3 298.3,548.6 304.6,549.8 310.9,550.8 317.1,550.7 323.4,550.7 329.7,550.8 336.0,551.8 342.3,555.2 348.6,558.6 354.9,560.9 361.2,558.9 367.5,556.9 373.8,555.7 380.1,557.5 386.4,559.4 392.7,559.6 399.0,555.8 405.3,550.5 411.6,547.3 417.9,548.4 424.2,551.1 430.5,555.7 436.8,557.1 443.0,558.8 449.3,561.4 455.6,571.0 461.9,581.9 468.2,589.3 474.5,589.0 480.8,592.4 487.1,601.8 493.4,618.9 499.7,630.3 506.0,636.0 512.3,635.7 518.6,631.7 524.9,623.9 531.2,613.7 537.5,604.7 543.8,597.5 550.1,591.6 556.4,585.9 562.7,583.2 568.9,583.2 575.2,584.1 581.5,580.6 587.8,573.0 594.1,567.2 600.4,572.5 606.7,585.2 613.0,598.8 619.3,598.9 625.6,595.5 631.9,588.5 638.2,588.3 644.5,579.2 650.8,573.5 657.1,568.1 663.4,575.6 669.7,585.0 676.0,600.3 682.3,616.6 688.6,626.9 694.9,627.7 701.1,617.6 707.4,610.5 713.7,604.3 720.0,603.0 726.3,599.7 732.6,596.3 738.9,587.5 745.2,575.6 751.5,561.6 757.8,552.7 764.1,548.9 770.4,553.2" fill="none" stroke="#ff8a3d" stroke-width="1.5"/><polyline points="0.0,552.5 2.4,554.3 8.7,564.8 15.0,577.5 21.3,603.8 27.6,608.3 33.9,591.8 40.2,569.3 46.5,569.3 52.8,575.3 59.1,585.0 65.4,585.0 71.6,606.0 77.9,616.6 84.2,627.1 90.5,618.1 96.8,596.7 103.1,588.5 109.4,587.7 115.7,582.7 122.0,578.8 128.3,576.4 134.6,580.8 140.9,571.1 147.2,557.8 153.5,552.0 159.8,550.2 166.1,556.7 172.4,559.9 178.7,570.3 185.0,570.0 191.2,571.2 197.5,570.6 203.8,577.7 210.1,572.6 216.4,566.5 222.7,556.5 229.0,557.2 235.3,560.0 241.6,555.4 247.9,553.8 254.2,551.9 260.5,557.1 266.8,555.1 273.1,548.9 279.4,546.8 285.7,546.8 292.0,548.4 298.3,550.5 304.6,550.6 310.9,551.3 317.1,550.1 323.4,550.7 329.7,551.6 336.0,553.1 342.3,560.9 348.6,561.8 354.9,559.8 361.2,555.0 367.5,555.8 373.8,556.4 380.1,560.3 386.4,561.6 392.7,556.8 399.0,548.9 405.3,545.7 411.6,547.2 417.9,552.3 424.2,553.9 430.5,560.8 436.8,556.6 443.0,559.0 449.3,568.6 455.6,585.3 461.9,591.9 468.2,590.8 474.5,584.2 480.8,602.2 487.1,619.0 493.4,635.3 499.7,636.7 506.0,636.0 512.3,634.4 518.6,624.8 524.9,612.5 531.2,603.7 537.5,597.8 543.8,590.9 550.1,586.2 556.4,580.6 562.7,582.6 568.9,586.2 575.2,583.4 581.5,572.1 587.8,563.4 594.1,566.1 600.4,588.1 606.7,601.4 613.0,606.9 619.3,588.4 625.6,591.4 631.9,585.9 638.2,587.7 644.5,564.1 650.8,568.7 657.1,571.5 663.4,586.5 669.7,597.0 676.0,617.4 682.3,635.3 688.6,627.9 694.9,619.8 701.1,605.2 707.4,606.6 713.7,601.0 720.0,601.5 726.3,596.6 732.6,590.8 738.9,575.0 745.2,560.9 751.5,549.0 757.8,548.1 764.1,549.7 770.4,561.7" fill="none" stroke="#3fa4f6" stroke-width="1.5"/><line x1="0" y1="563.3" x2="1160.5" y2="563.3" stroke="#787b86" stroke-width="1.3" stroke-dasharray="4.7,4.542" stroke-dashoffset="1.31"/><line x1="0" y1="627" x2="1160.5" y2="627" stroke="#787b86" stroke-width="1.3" stroke-dasharray="4.7,4.542" stroke-dashoffset="1.31"/><rect x="0" y="563.3" width="1160.5" height="63.7" fill="#af58f2" fill-opacity="0.3"/><rect x="1163" y="39" width="37" height="604" fill="#fff"/><line x1="1162.2" y1="39" x2="1162.2" y2="666" stroke="#8f8f8f" stroke-width="1.4"/><line x1="1163" y1="47.5" x2="1167" y2="47.5" stroke="#555" stroke-width="1.2"/><text x="1171" y="51.8" font-family="'Liberation Sans', sans-serif" font-size="12.5" fill="#555">38.00</text><line x1="1163" y1="102.3" x2="1167" y2="102.3" stroke="#555" stroke-width="1.2"/><text x="1171" y="106.6" font-family="'Liberation Sans', sans-serif" font-size="12.5" fill="#555">36.00</text><line x1="1163" y1="157.1" x2="1167" y2="157.1" stroke="#555" stroke-width="1.2"/><text x="1171" y="161.4" font-family="'Liberation Sans', sans-serif" font-size="12.5" fill="#555">34.00</text><line x1="1163" y1="211.9" x2="1167" y2="211.9" stroke="#555" stroke-width="1.2"/><text x="1171" y="216.2" font-family="'Liberation Sans', sans-serif" font-size="12.5" fill="#555">32.00</text><line x1="1163" y1="266.8" x2="1167" y2="266.8" stroke="#555" stroke-width="1.2"/><text x="1171" y="271.1" font-family="'Liberation Sans', sans-serif" font-size="12.5" fill="#555">30.00</text><line x1="1163" y1="321.6" x2="1167" y2="321.6" stroke="#555" stroke-width="1.2"/><text x="1171" y="325.9" font-family="'Liberation Sans', sans-serif" font-size="12.5" fill="#555">28.00</text><line x1="1163" y1="376.4" x2="1167" y2="376.4" stroke="#555" stroke-width="1.2"/><text x="1171" y="380.7" font-family="'Liberation Sans', sans-serif" font-size="12.5" fill="#555">26.00</text><line x1="1163" y1="455.4" x2="1167" y2="455.4" stroke="#555" stroke-width="1.2"/><text x="1171" y="459.7" font-family="'Liberation Sans', sans-serif" font-size="12.5" fill="#555">1.00</text><line x1="1163" y1="607.0" x2="1167" y2="607.0" stroke="#555" stroke-width="1.2"/><text x="1171" y="611.3" font-family="'Liberation Sans', sans-serif" font-size="12.5" fill="#555">40.00</text><rect x="1161.8" y="47" width="38.2" height="17.5" fill="#ff0000"/><line x1="1163" y1="55.8" x2="1167" y2="55.8" stroke="#fff" stroke-width="1.2"/><text x="1171" y="60.2" font-family="'Liberation Sans', sans-serif" font-size="12.5" fill="#fff">37.66</text><rect x="1161.8" y="123.8" width="38.2" height="17.799999999999997" fill="#3a77b1"/><line x1="1163" y1="132.7" x2="1167" y2="132.7" stroke="#fff" stroke-width="1.2"/><text x="1171" y="137.2" font-family="'Liberation Sans', sans-serif" font-size="12.5" fill="#fff">34.86</text><rect x="1161.8" y="464.6" width="38.2" height="17.69999999999999" fill="#2196f3"/><line x1="1163" y1="473.5" x2="1167" y2="473.5" stroke="#fff" stroke-width="1.2"/><text x="1171" y="478.0" font-family="'Liberation Sans', sans-serif" font-size="12.5" fill="#fff">0.50</text><rect x="1161.8" y="482.3" width="38.2" height="17.5" fill="#b2dfdb"/><line x1="1163" y1="491.1" x2="1167" y2="491.1" stroke="#333" stroke-width="1.2"/><text x="1171" y="495.6" font-family="'Liberation Sans', sans-serif" font-size="12.5" fill="#333">0.28</text><rect x="1161.8" y="499.8" width="38.2" height="17.999999999999943" fill="#ff6d00"/><line x1="1163" y1="508.8" x2="1167" y2="508.8" stroke="#fff" stroke-width="1.2"/><text x="1171" y="513.3" font-family="'Liberation Sans', sans-serif" font-size="12.5" fill="#fff">0.22</text><clipPath id="cl"><rect x="1150" y="541" width="60" height="30"/></clipPath><g clip-path="url(#cl)"><rect x="1161.8" y="540.5" width="38.2" height="11.700000000000045" fill="#ff6d00"/><line x1="1163" y1="543.6" x2="1167" y2="543.6" stroke="#fff" stroke-width="1.2"/><text x="1171" y="548.1" font-family="'Liberation Sans', sans-serif" font-size="12.5" fill="#fff">89.48</text></g><rect x="1161.8" y="552.2" width="38.2" height="17.59999999999991" fill="#2196f3"/><line x1="1163" y1="561.2" x2="1167" y2="561.2" stroke="#fff" stroke-width="1.2"/><text x="1171" y="565.7" font-family="'Liberation Sans', sans-serif" font-size="12.5" fill="#fff">81.62</text><line x1="0" y1="425.1" x2="1200" y2="425.1" stroke="#929292" stroke-width="1.4"/><line x1="0" y1="540.4" x2="1200" y2="540.4" stroke="#7c7c7c" stroke-width="1.3"/><line x1="0" y1="642.8" x2="1200" y2="642.8" stroke="#a0a0a0" stroke-width="1.5"/><circle cx="1147.8" cy="57" r="8" fill="#ff9147"/><rect x="1147.2" y="52.75" width="1.3" height="1.3" fill="#fff"/><rect x="1147.2" y="55.45" width="1.3" height="1.3" fill="#fff"/><rect x="1147.2" y="58.15" width="1.3" height="1.3" fill="#fff"/><rect x="1147.2" y="60.85" width="1.3" height="1.3" fill="#fff"/><line x1="66" y1="643" x2="66" y2="647" stroke="#555" stroke-width="1.2"/><text x="66" y="662.7" font-family="'Liberation Sans', sans-serif" font-size="11.3" fill="#555" text-anchor="middle">Aug</text><line x1="204.5" y1="643" x2="204.5" y2="647" stroke="#555" stroke-width="1.2"/><text x="204.5" y="662.7" font-family="'Liberation Sans', sans-serif" font-size="11.3" fill="#555" text-anchor="middle">Sep</text><line x1="330.3" y1="643" x2="330.3" y2="647" stroke="#555" stroke-width="1.2"/><text x="330.3" y="662.7" font-family="'Liberation Sans', sans-serif" font-size="11.3" fill="#555" text-anchor="middle">Oct</text><line x1="475.3" y1="643" x2="475.3" y2="647" stroke="#555" stroke-width="1.2"/><text x="475.3" y="662.7" font-family="'Liberation Sans', sans-serif" font-size="11.3" fill="#555" text-anchor="middle">Nov</text><line x1="601.6" y1="643" x2="601.6" y2="647" stroke="#555" stroke-width="1.2"/><text x="601.6" y="662.7" font-family="'Liberation Sans', sans-serif" font-size="11.3" fill="#555" text-anchor="middle">Dec</text><line x1="733.3" y1="643" x2="733.3" y2="647" stroke="#555" stroke-width="1.2"/><text x="733.3" y="662.7" font-family="'Liberation Sans', sans-serif" font-size="12" fill="#555" text-anchor="middle" font-weight="bold">2020</text><line x1="866" y1="643" x2="866" y2="647" stroke="#555" stroke-width="1.2"/><text x="866" y="662.7" font-family="'Liberation Sans', sans-serif" font-size="11.3" fill="#555" text-anchor="middle">Feb</text><line x1="985.5" y1="643" x2="985.5" y2="647" stroke="#555" stroke-width="1.2"/><text x="985.5" y="662.7" font-family="'Liberation Sans', sans-serif" font-size="11.3" fill="#555" text-anchor="middle">Mar</text><line x1="1123.8" y1="643" x2="1123.8" y2="647" stroke="#555" stroke-width="1.2"/><text x="1123.8" y="662.7" font-family="'Liberation Sans', sans-serif" font-size="11.3" fill="#555" text-anchor="middle">Apr</text><g transform="translate(1184,657)" fill="none" stroke="#333" stroke-width="1.3"><circle r="5"/><line x1="5.00" y1="0.00" x2="8.00" y2="0.00"/><line x1="3.54" y1="3.54" x2="5.66" y2="5.66"/><line x1="0.00" y1="5.00" x2="0.00" y2="8.00"/><line x1="-3.54" y1="3.54" x2="-5.66" y2="5.66"/><line x1="-5.00" y1="0.00" x2="-8.00" y2="0.00"/><line x1="-3.54" y1="-3.54" x2="-5.66" y2="-5.66"/><line x1="-0.00" y1="-5.00" x2="-0.00" y2="-8.00"/><line x1="3.54" y1="-3.54" x2="5.66" y2="-5.66"/></g><rect x="0" y="46" width="340" height="18" fill="#fff" fill-opacity="0.6"/><text transform="translate(7.8,61.5) scale(0.89,1)" font-family="'Liberation Sans', sans-serif" font-size="16" fill="#4a4a4a">KBH</text><text x="48.3" y="60.7" font-family="'Liberation Sans', sans-serif" font-size="12.2" fill="#555" textLength="8.3">O</text><text x="56.99999999999999" y="60.7" font-family="'Liberation Sans', sans-serif" font-size="12.2" fill="#3b7553" textLength="33.7">35.46</text><text x="98.7" y="60.7" font-family="'Liberation Sans', sans-serif" font-size="12.2" fill="#555" textLength="8.3">H</text><text x="107.4" y="60.7" font-family="'Liberation Sans', sans-serif" font-size="12.2" fill="#3b7553" textLength="32.6">36.35</text><text x="148.7" y="60.7" font-family="'Liberation Sans', sans-serif" font-size="12.2" fill="#555" textLength="6.6">L</text><text x="155.7" y="60.7" font-family="'Liberation Sans', sans-serif" font-size="12.2" fill="#3b7553" textLength="32.3">35.04</text><text x="196" y="60.7" font-family="'Liberation Sans', sans-serif" font-size="12.2" fill="#555" textLength="8.3">C</text><text x="204.70000000000002" y="60.7" font-family="'Liberation Sans', sans-serif" font-size="12.2" fill="#3b7553" textLength="32.6">35.76</text><text x="245" y="60.7" font-family="'Liberation Sans', sans-serif" font-size="12.2" fill="#3b7553" textLength="32.3">−1.30</text><text x="282.7" y="60.7" font-family="'Liberation Sans', sans-serif" font-size="12.2" fill="#3b7553" textLength="50.6">(−3.51%)</text><rect x="6.5" y="70.5" width="21" height="22" rx="3" fill="#fff" stroke="#dcdfe6" stroke-width="1.1"/><polyline points="13.1,79.2 17.3,82.5 21.5,79.2" fill="none" stroke="#131722" stroke-width="1.6"/><text x="35.5" y="85" font-family="'Liberation Sans', sans-serif" font-size="12.5" fill="#555" textLength="24.5">EMA</text><text x="70.2" y="85" font-family="'Liberation Sans', sans-serif" font-size="12.5" fill="#3d7ab5" textLength="32.8">34.86</text><rect x="6.5" y="431.5" width="21" height="22" rx="3" fill="#fff" stroke="#dcdfe6" stroke-width="1.1"/><polyline points="13.1,440.2 17.3,443.5 21.5,440.2" fill="none" stroke="#131722" stroke-width="1.6"/><text x="35.5" y="446.7" font-family="'Liberation Sans', sans-serif" font-size="12.5" fill="#555" textLength="33.5">MACD</text><text x="79" y="446.7" font-family="'Liberation Sans', sans-serif" font-size="12.5" fill="#b2dfdb" textLength="26">0.28</text><text x="111.8" y="446.7" font-family="'Liberation Sans', sans-serif" font-size="12.5" fill="#2196f3" textLength="26">0.50</text><text x="144.8" y="446.7" font-family="'Liberation Sans', sans-serif" font-size="12.5" fill="#ff6d00" textLength="26">0.22</text><rect x="30" y="563.5" width="127" height="7" fill="#fff" fill-opacity="0.5"/><rect x="6.5" y="547" width="21" height="22" rx="3" fill="#fff" stroke="#dcdfe6" stroke-width="1.1"/><polyline points="13.1,555.7 17.3,559 21.5,555.7" fill="none" stroke="#131722" stroke-width="1.6"/><text x="35.5" y="561.7" font-family="'Liberation Sans', sans-serif" font-size="12.5" fill="#555" textLength="32.7">Stoch</text><text x="78.7" y="561.7" font-family="'Liberation Sans', sans-serif" font-size="12.5" fill="#2196f3" textLength="33">81.62</text><text x="118.5" y="561.7" font-family="'Liberation Sans', sans-serif" font-size="12.5" fill="#ff6d00" textLength="33">89.48</text><line x1="687" y1="665.6" x2="1022" y2="665.6" stroke="#e9ecf0" stroke-width="1"/><rect x="0" y="0" width="1200" height="38" fill="#fff"/><line x1="0" y1="38.5" x2="1200" y2="38.5" stroke="#e0e3eb" stroke-width="1.2"/><line x1="103.8" y1="0" x2="103.8" y2="38" stroke="#e6e8ee" stroke-width="1.2"/><line x1="143.7" y1="0" x2="143.7" y2="38" stroke="#e6e8ee" stroke-width="1.2"/><line x1="184" y1="0" x2="184" y2="38" stroke="#e6e8ee" stroke-width="1.2"/><line x1="224.6" y1="0" x2="224.6" y2="38" stroke="#e6e8ee" stroke-width="1.2"/><line x1="266.2" y1="0" x2="266.2" y2="38" stroke="#e6e8ee" stroke-width="1.2"/><line x1="307.3" y1="0" x2="307.3" y2="38" stroke="#e6e8ee" stroke-width="1.2"/><line x1="348" y1="0" x2="348" y2="38" stroke="#e6e8ee" stroke-width="1.2"/><line x1="388.6" y1="0" x2="388.6" y2="38" stroke="#e6e8ee" stroke-width="1.2"/><line x1="430.5" y1="0" x2="430.5" y2="38" stroke="#e6e8ee" stroke-width="1.2"/><line x1="497" y1="0" x2="497" y2="38" stroke="#e6e8ee" stroke-width="1.2"/><line x1="791.5" y1="0" x2="791.5" y2="38" stroke="#e6e8ee" stroke-width="1.2"/><line x1="832.4" y1="0" x2="832.4" y2="38" stroke="#e6e8ee" stroke-width="1.2"/><line x1="961" y1="0" x2="961" y2="38" stroke="#e6e8ee" stroke-width="1.2"/><line x1="1002.4" y1="0" x2="1002.4" y2="38" stroke="#e6e8ee" stroke-width="1.2"/><line x1="1044" y1="0" x2="1044" y2="38" stroke="#e6e8ee" stroke-width="1.2"/><text transform="translate(10.8,22.8) scale(0.8,1)" font-family="'Liberation Sans', sans-serif" font-size="16" font-weight="bold" fill="#131722">KBH</text><text transform="translate(119.5,22.5) scale(0.82,1)" font-family="'Liberation Sans', sans-serif" font-size="15" font-weight="bold" fill="#131722">D</text><g fill="none" stroke="#131722" stroke-width="1.3" stroke-linecap="round" stroke-linejoin="round"><rect x="157.5" y="10.3" width="5" height="14.1" rx="0.8"/><line x1="160" y1="7" x2="160" y2="10.3"/><line x1="160" y1="24.4" x2="160" y2="27.6"/><rect x="166.3" y="13.2" width="4.7" height="7.9" rx="0.8"/><line x1="168.6" y1="10" x2="168.6" y2="13.2"/><line x1="168.6" y1="21.1" x2="168.6" y2="24.7"/></g><g fill="none" stroke="#131722" stroke-width="1.3" stroke-linecap="round" stroke-linejoin="round"><circle cx="204.2" cy="17.3" r="9.6"/><line x1="199" y1="17.3" x2="209.4" y2="17.3"/><line x1="204.2" y1="12.1" x2="204.2" y2="22.5"/></g><g fill="none" stroke="#131722" stroke-width="1.3" stroke-linecap="round" stroke-linejoin="round"><polyline points="234.8,16.8 241.3,10.6 247.8,17.1 253.7,11.4"/><line x1="248.2" y1="24.2" x2="257.8" y2="24.2"/><line x1="253" y1="19.4" x2="253" y2="29.0"/></g><g fill="none" stroke="#131722" stroke-width="1.3" stroke-linecap="round" stroke-linejoin="round"><rect x="276.1" y="15.2" width="2.7" height="4.8"/><rect x="281.3" y="6" width="2.7" height="13.5"/><rect x="286.5" y="10.8" width="3" height="9.2"/><line x1="288.5" y1="24.2" x2="298.1" y2="24.2"/><line x1="293.3" y1="19.4" x2="293.3" y2="29.0"/></g><g fill="none" stroke="#131722" stroke-width="1.3" stroke-linecap="round" stroke-linejoin="round"><polyline points="317.6,13.2 323.6,8.1 330.1,12.8 336.6,7.4"/><polyline points="317.6,18.6 323.6,13.5 330.1,17.9 336.6,13"/><line x1="317.6" y1="27" x2="317.6" y2="27.4"/><line x1="320.3" y1="25" x2="320.3" y2="27.4"/><line x1="323" y1="22.3" x2="323" y2="27.4"/><line x1="326.3" y1="23.6" x2="326.3" y2="27.4"/><line x1="329.59999999999997" y1="24.2" x2="339.2" y2="24.2"/><line x1="334.4" y1="19.4" x2="334.4" y2="29.0"/></g><g fill="none" stroke="#131722" stroke-width="1.3" stroke-linecap="round" stroke-linejoin="round"><path d="M 377.1 17.7 A 8.8 8.8 0 1 0 368.3 26.5"/><path d="M 360.03 14.69 A 3.72 3.72 0 0 1 365.29 9.43"/><path d="M 371.31 9.43 A 3.72 3.72 0 0 1 376.57 14.69"/><polyline points="368,12.3 368,17.7 364.8,17.7"/><line x1="369.79999999999995" y1="24" x2="379.0" y2="24"/><line x1="374.4" y1="19.4" x2="374.4" y2="28.6"/></g><g fill="none" stroke="#131722" stroke-width="1.3" stroke-linecap="round" stroke-linejoin="round"><polygon points="403,17.5 409.3,11.9 409.3,23.8"/><polygon points="411.2,17.5 418.4,11.9 418.4,23.8"/></g><g fill="none" stroke="#131722" stroke-width="1.3" stroke-linecap="round" stroke-linejoin="round"><path d="M 442 15.6 L 447.5 15.6 C 451.8 15.6 454.4 18.2 454.4 22.7"/><polyline points="445.2,12.4 442,15.6 445.2,18.8"/></g><g fill="none" stroke="#c8cad0" stroke-width="1.3" stroke-linecap="round" stroke-linejoin="round"><path d="M 483.3 15.6 L 477.5 15.6 C 473 15.6 470.4 18.2 470.4 22.7"/><polyline points="480.3,12.4 483.5,15.6 480.3,18.8"/></g><rect x="803" y="9.3" width="19" height="16.6" rx="2.6" fill="none" stroke="#4a4a4a" stroke-width="1.6"/><path d="M 844 25 L 860.5 25 Q 865 25 864.5 20.5 Q 864 16 860 15.5 Q 858 9 852 9.3 Q 846 9.6 845 15 Q 840 16 840 20.5 Q 840.5 25 844 25 Z" fill="none" stroke="#4a4a4a" stroke-width="1.5" stroke-dasharray="3.2,2.3"/><text x="869.5" y="22.6" font-family="'Liberation Sans', sans-serif" font-size="14.2" fill="#131722" textLength="63.7">My Charts</text><polyline points="946.6,15.6 950.6,19.4 954.6,15.6" fill="none" stroke="#131722" stroke-width="1.3" stroke-linecap="round" stroke-linejoin="round"/><polygon points="988.9,15.3 991.9,15.8 991.9,18.8 988.9,19.3 988.3,20.9 990.0,23.4 987.9,25.5 985.4,23.8 983.8,24.4 983.3,27.4 980.3,27.4 979.8,24.4 978.2,23.8 975.7,25.5 973.6,23.4 975.3,20.9 974.7,19.3 971.7,18.8 971.7,15.8 974.7,15.3 975.3,13.7 973.6,11.2 975.7,9.1 978.2,10.8 979.8,10.2 980.3,7.2 983.3,7.2 983.8,10.2 985.4,10.8 987.9,9.1 990.0,11.2 988.3,13.7" fill="none" stroke="#131722" stroke-width="1.3" stroke-linecap="round" stroke-linejoin="round"/><circle cx="981.8" cy="17.3" r="3.1" fill="none" stroke="#131722" stroke-width="1.3" stroke-linecap="round" stroke-linejoin="round"/><g fill="none" stroke="#131722" stroke-width="1.3" stroke-linecap="round" stroke-linejoin="round" stroke-width="1.5"><polyline points="1015.3,13.4 1015.3,9.8 1018.9,9.8"/><line x1="1015.3" y1="9.8" x2="1020.0999999999999" y2="14.600000000000001"/><polyline points="1030.6,13.4 1030.6,9.8 1027.0,9.8"/><line x1="1030.6" y1="9.8" x2="1025.8" y2="14.600000000000001"/><polyline points="1015.3,21.2 1015.3,24.8 1018.9,24.8"/><line x1="1015.3" y1="24.8" x2="1020.0999999999999" y2="20.0"/><polyline points="1030.6,21.2 1030.6,24.8 1027.0,24.8"/><line x1="1030.6" y1="24.8" x2="1025.8" y2="20.0"/></g><g fill="none" stroke="#3a3d45" stroke-width="1.4" stroke-linejoin="round"><path d="M 1054.8 10.1 L 1058.3 10.1 L 1059.6 7.9 L 1067.4 7.9 L 1068.7 10.1 L 1072.8 10.1 Q 1074.7 10.1 1074.7 12 L 1074.7 23.5 Q 1074.7 25.4 1072.8 25.4 L 1055 25.4 Q 1053.1 25.4 1053.1 23.5 L 1053.1 12 Q 1053.1 10.1 1054.8 10.1 Z"/><circle cx="1063.8" cy="17.6" r="4.6"/></g><rect x="1085" y="0" width="115" height="38" fill="#2196f3"/><line x1="1169.5" y1="0" x2="1169.5" y2="38" stroke="#8cc8f8" stroke-width="1"/><text x="1102" y="23.6" font-family="'Liberation Sans', sans-serif" font-size="16.3" fill="#fff" stroke="#fff" stroke-width="0.5" textLength="49.6">Publish</text><circle cx="1188" cy="18" r="9.8" fill="none" stroke="#fff" stroke-width="1.4"/><polygon points="1186.2,14.2 1186.2,22 1193,18.1" fill="#fff"/></svg>
</body></html>
